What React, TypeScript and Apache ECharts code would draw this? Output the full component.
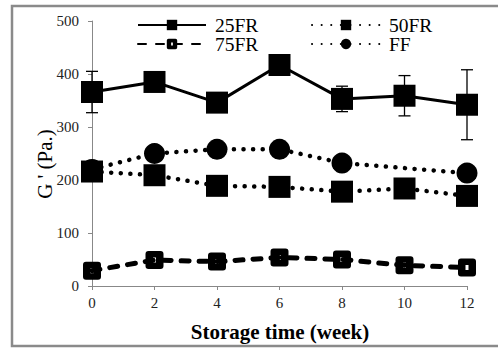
import React, { useEffect, useRef } from "react";
import * as echarts from "echarts";

const weeks = [0, 2, 4, 6, 8, 10, 12];
const fr25 = [366, 385, 346, 417, 353, 359, 342];
const fr25Err = [39, 10, 8, 8, 24, 38, 66];
const fr50 = [216, 209, 189, 187, 178, 184, 170];
const fr75 = [29, 49, 46, 54, 50, 39, 35];
const ff = [220, 250, 258, 258, 232, null, 213];
const yTicks = [0, 100, 200, 300, 400, 500];
const xTitle = "Storage time (week)";
const yTitle = "G ' (Pa.)";

const FONT = "Liberation Serif";
const OPEN_SQ =
  "path://M3,0 H15 Q18,0 18,3 V15 Q18,18 15,18 H3 Q0,18 0,15 V3 Q0,0 3,0 Z M7.5,6.5 V11.5 H10.5 V6.5 Z";

export default function App() {
  const ref = useRef<HTMLDivElement>(null);
  useEffect(() => {
    if (!ref.current) return;
    const chart = echarts.init(ref.current, null, { renderer: "svg" });
    const pair = (arr: (number | null)[]) => weeks.map((w, i) => [w, arr[i]]);
    const legendBase = {
      padding: 0,
      itemWidth: 68,
      itemHeight: 13,
      textStyle: { fontFamily: FONT, fontSize: 19.5, color: "#000", lineHeight: 18, padding: [0, 0, 0, 4] },
      selectedMode: false,
    };
    const dotted = { color: "#000", width: 4.5, type: [0.1, 9.5], cap: "round" as const };
    chart.setOption({
      animation: false,
      backgroundColor: "#fff",
      textStyle: { fontFamily: FONT },
      grid: { left: 92, right: 31, top: 21, bottom: 62 },
      legend: [
        { ...legendBase, data: ["25FR"], left: 137, top: 15 },
        { ...legendBase, data: ["50FR"], left: 311, top: 15 },
        { ...legendBase, data: ["75FR"], left: 137, top: 34 },
        { ...legendBase, data: ["FF"], left: 311, top: 34 },
      ],
      xAxis: {
        type: "value",
        min: 0,
        max: 12,
        interval: 2,
        splitLine: { show: false },
        axisLine: { show: true, lineStyle: { color: "#888", width: 1 } },
        axisTick: { show: true, length: 4, lineStyle: { color: "#888" } },
        axisLabel: { fontFamily: FONT, fontSize: 15, color: "#222", margin: 9 },
      },
      yAxis: {
        type: "value",
        min: yTicks[0],
        max: yTicks[yTicks.length - 1],
        interval: 100,
        splitLine: { show: false },
        axisLine: { show: true, lineStyle: { color: "#888", width: 1 } },
        axisTick: { show: true, length: 4, lineStyle: { color: "#888" } },
        axisLabel: { fontFamily: FONT, fontSize: 15, color: "#222", margin: 13 },
      },
      graphic: [
        {
          type: "rect",
          shape: { x: 12, y: 6, width: 500, height: 340 },
          style: { fill: "none", stroke: "#8a8a8a", lineWidth: 2.5 },
          silent: true,
        },
        {
          type: "text",
          x: 280,
          y: 332,
          style: {
            text: xTitle,
            fontFamily: FONT,
            fontSize: 21,
            fontWeight: "bold",
            fill: "#000",
            textAlign: "center",
            textVerticalAlign: "middle",
          },
        },
        {
          type: "text",
          x: 45,
          y: 164,
          rotation: Math.PI / 2,
          style: {
            text: yTitle,
            fontFamily: FONT,
            fontSize: 21,
            fill: "#000",
            textAlign: "center",
            textVerticalAlign: "middle",
          },
        },
      ],
      series: [
        {
          type: "custom",
          name: "err",
          z: 1,
          data: weeks.map((w, i) => [w, fr25[i] - fr25Err[i], fr25[i] + fr25Err[i]]),
          renderItem: (params: any, api: any) => {
            const x = api.value(0);
            const lo = api.coord([x, api.value(1)]);
            const hi = api.coord([x, api.value(2)]);
            const half = 6;
            const style = { stroke: "#000", lineWidth: 1.3 };
            return {
              type: "group",
              children: [
                { type: "line", shape: { x1: lo[0], y1: lo[1], x2: hi[0], y2: hi[1] }, style },
                { type: "line", shape: { x1: hi[0] - half, y1: hi[1], x2: hi[0] + half, y2: hi[1] }, style },
                { type: "line", shape: { x1: lo[0] - half, y1: lo[1], x2: lo[0] + half, y2: lo[1] }, style },
              ],
            };
          },
        },
        {
          type: "line",
          name: "75FR",
          z: 2,
          data: pair(fr75),
          symbol: OPEN_SQ,
          symbolSize: 18,
          lineStyle: { color: "#000", width: 5, type: [8, 10], cap: "round" },
          itemStyle: { color: "#000" },
        },
        {
          type: "line",
          name: "FF",
          z: 3,
          data: pair(ff),
          connectNulls: true,
          symbol: "circle",
          symbolSize: 21,
          lineStyle: dotted,
          itemStyle: { color: "#000" },
        },
        {
          type: "line",
          name: "50FR",
          z: 4,
          data: pair(fr50),
          symbol: "rect",
          symbolSize: 22,
          lineStyle: dotted,
          itemStyle: { color: "#000" },
        },
        {
          type: "line",
          name: "25FR",
          z: 5,
          data: pair(fr25),
          symbol: "rect",
          symbolSize: 22,
          lineStyle: { color: "#000", width: 3 },
          itemStyle: { color: "#000" },
        },
      ],
    });
    return () => chart.dispose();
  }, []);
  return (
    <div
      ref={ref}
      style={{ position: "fixed", left: 0, top: 0, width: 498, height: 348, background: "#fff" }}
    />
  );
}
